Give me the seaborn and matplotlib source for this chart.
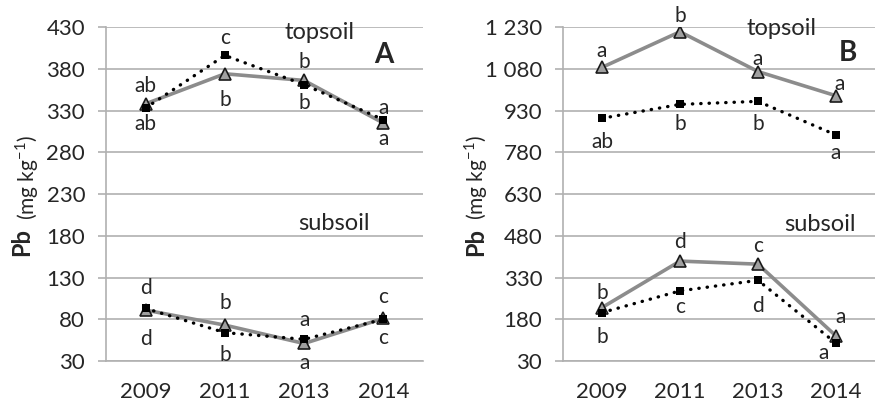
import numpy as np
import pandas as pd
import seaborn as sns
import matplotlib.pyplot as plt

sns.set_style('white')
plt.rcParams['font.family'] = ['Lato', 'DejaVu Sans']
plt.rcParams['mathtext.fontset'] = 'custom'
plt.rcParams['mathtext.rm'] = 'Lato'
plt.rcParams['mathtext.bf'] = 'Lato:bold'

#%% data
years = ['2009', '2011', '2013', '2014']

# panel A
a_top_grey = [338, 374, 366, 315]
a_top_dot = [333, 396, 361, 319]
a_sub_grey = [91, 73, 51, 81]
a_sub_dot = [93, 64, 56, 80]
a_top_up = ['ab', 'c', 'b', 'a']
a_top_dn = ['ab', 'b', 'b', 'a']
a_sub_up = ['d', 'b', 'a', 'c']
a_sub_dn = ['d', 'b', 'a', 'c']
a_ticks = [30, 80, 130, 180, 230, 280, 330, 380, 430]
a_ticklabels = ['30', '80', '130', '180', '230', '280', '330', '380', '430']

# panel B
b_top_grey = [1085, 1213, 1070, 983]
b_top_dot = [902, 952, 963, 842]
b_sub_grey = [222, 389, 378, 120]
b_sub_dot = [204, 282, 320, 94]
b_top_up = ['a', 'b', 'a', 'a']
b_top_dn = ['ab', 'b', 'b', 'a']
b_sub_up = ['b', 'd', 'c', 'a']
b_sub_dn = ['b', 'c', 'd', 'a']
b_ticks = [30, 180, 330, 480, 630, 780, 930, 1080, 1230]
b_ticklabels = ['30', '180', '330', '480', '630', '780', '930', '1 080', '1 230']

grey = '#8c8c8c'
gridc = '#b0b0b0'
txtc = '#262626'
fs = 16      # tick labels
fs_let = 15  # letters
fs_lay = 17  # topsoil / subsoil


def draw_series(ax, vals, kind):
    df = pd.DataFrame({'year': years, 'Pb': vals})
    if kind == 'grey':
        sns.lineplot(x='year', y='Pb', data=df, ax=ax, color=grey, linewidth=2.6,
                     marker='^', markersize=8, markerfacecolor='#a0a0a0',
                     markeredgecolor='#1a1a1a', markeredgewidth=1.2, zorder=3)
    else:
        sns.lineplot(x='year', y='Pb', data=df, ax=ax, color='black', linewidth=2.4,
                     linestyle=(0, (0.1, 2.4)), dash_capstyle='round',
                     marker='s', markersize=5.5, markeredgewidth=0, zorder=4)


def put_letters(ax, vals, labels, offs):
    # offs: (dx, dy) in pixels, dy positive = up
    for i, (v, t, o) in enumerate(zip(vals, labels, offs)):
        ax.annotate(t, (i, v), xytext=o, textcoords='offset pixels',
                    ha='center', va='center', fontsize=fs_let, color=txtc,
                    annotation_clip=False, zorder=5)


def style_axis(ax, ticks, ticklabels, pbx, restx):
    ax.set_xlim(-0.5, 3.5)
    ax.set_ylim(ticks[0], ticks[-1])
    ax.set_yticks(ticks)
    ax.set_yticklabels(ticklabels, fontsize=fs, color=txtc)
    ax.yaxis.grid(True, color=gridc, linewidth=1.2)
    ax.set_axisbelow(True)
    for s in ['top', 'right']:
        ax.spines[s].set_visible(False)
    for s in ['left', 'bottom']:
        ax.spines[s].set_color(gridc)
        ax.spines[s].set_linewidth(1.2)
    ax.set_xticks(range(4))
    ax.set_xticklabels(years, fontsize=fs, color=txtc)
    ax.set_xticks([-0.5, 0.5, 1.5, 2.5, 3.5], minor=True)
    ax.tick_params(axis='x', which='major', length=0, pad=15)
    ax.tick_params(axis='x', which='minor', length=5, width=1.2, color=gridc)
    ax.tick_params(axis='y', length=6, width=1.2, color=gridc, pad=9, left=True)
    ax.set_xlabel('')
    ax.set_ylabel('')
    ax.text(pbx, 0.356, 'Pb', transform=ax.transAxes, rotation=90, fontsize=17,
            fontweight='bold', ha='center', va='center', color=txtc)
    ax.text(restx, 0.548, r'(mg kg$^{-1}$)', transform=ax.transAxes, rotation=90,
            fontsize=15, ha='center', va='center', color=txtc)


fig = plt.figure(figsize=(8.75, 4.05), dpi=100)
axA = fig.add_axes([0.1211, 0.1086, 0.3623, 0.8247])
axB = fig.add_axes([0.6434, 0.1086, 0.3566, 0.8247])

#%% A
draw_series(axA, a_top_grey, 'grey')
draw_series(axA, a_top_dot, 'dot')
draw_series(axA, a_sub_grey, 'grey')
draw_series(axA, a_sub_dot, 'dot')
put_letters(axA, [max(p) for p in zip(a_top_grey, a_top_dot)], a_top_up,
            [(0, 18), (0, 17), (0, 18), (0, 12)])
put_letters(axA, [min(p) for p in zip(a_top_grey, a_top_dot)], a_top_dn,
            [(0, -16), (0, -26), (0, -18), (0, -16)])
put_letters(axA, [max(p) for p in zip(a_sub_grey, a_sub_dot)], a_sub_up,
            [(0, 20), (0, 22), (0, 19), (0, 21)])
put_letters(axA, [min(p) for p in zip(a_sub_grey, a_sub_dot)], a_sub_dn,
            [(0, -29), (0, -22), (0, -20), (0, -19)])
style_axis(axA, a_ticks, a_ticklabels, -0.265, -0.249)
axA.text(2.2, 424, 'topsoil', fontsize=fs_lay, ha='center', va='center', color=txtc)
axA.text(2.38, 195, 'subsoil', fontsize=fs_lay, ha='center', va='center', color=txtc)
axA.text(3.0, 397, 'A', fontsize=20, fontweight='bold', ha='center', va='center',
         color=txtc)

#%% B
draw_series(axB, b_top_grey, 'grey')
draw_series(axB, b_top_dot, 'dot')
draw_series(axB, b_sub_grey, 'grey')
draw_series(axB, b_sub_dot, 'dot')
put_letters(axB, b_top_grey, b_top_up, [(0, 16), (0, 16), (0, 13), (4, 12)])
put_letters(axB, b_top_dot, b_top_dn, [(0, -24), (0, -20), (0, -23), (0, -18)])
put_letters(axB, b_sub_grey, b_sub_up, [(0, 15), (0, 19), (0, 18), (5, 19)])
put_letters(axB, b_sub_dot, b_sub_dn, [(0, -24), (0, -16), (0, -26), (-12, -10)])
style_axis(axB, b_ticks, b_ticklabels, -0.279, -0.277)
axB.text(2.3, 1224, 'topsoil', fontsize=fs_lay, ha='center', va='center', color=txtc)
axB.text(2.8, 522, 'subsoil', fontsize=fs_lay, ha='center', va='center', color=txtc)
axB.text(3.15, 1137, 'B', fontsize=20, fontweight='bold', ha='center', va='center',
         color=txtc)

plt.savefig('out.png', dpi=100)
